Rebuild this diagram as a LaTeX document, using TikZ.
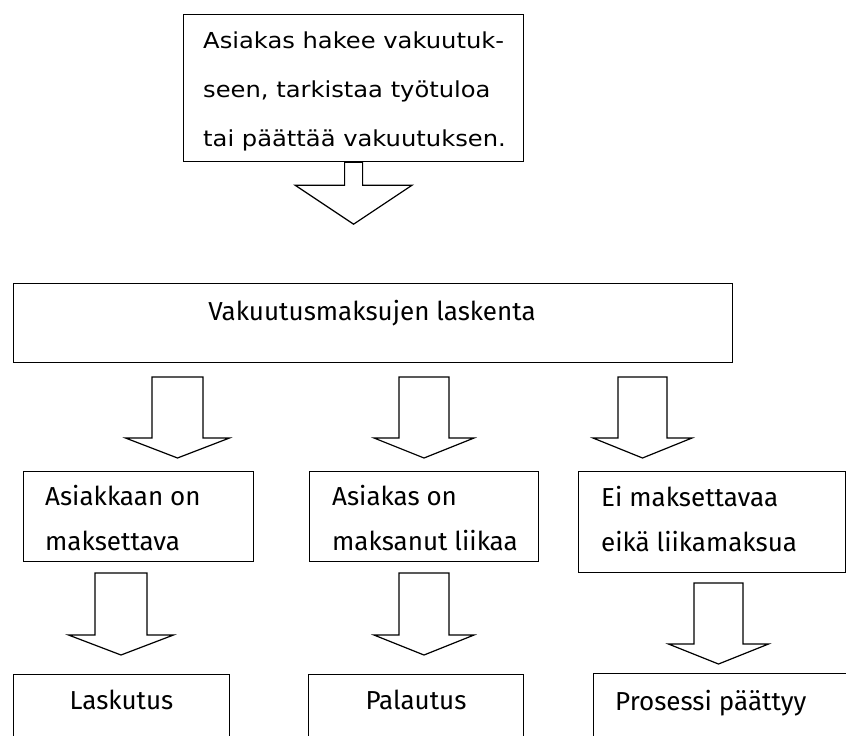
\documentclass[tikz,border=0pt]{standalone}
\usepackage{fontspec}
\setmainfont{Fira Sans}
\newfontfamily\headfont[FakeStretch=1.1]{DejaVu Sans}

\tikzset{
  frame/.style={draw, line width=1.2pt, fill=white, inner sep=0pt, anchor=north west},
  arrowline/.style={draw, line width=1.2pt, line join=miter, fill=white},
  body/.style={font=\fontsize{26}{45}\selectfont, inner sep=0pt, align=left},
  headtext/.style={font=\headfont\fontsize{22}{49}\selectfont, inner sep=0pt, align=left},
  % block arrow: #1 half stem width, #2 stem length, #3 half head width, #4 head length
  pics/blockarrow/.style n args={4}{code={
    \draw[arrowline] (-#1,0) -- (-#1,#2) -- (-#3,#2) -- (0,{#2+#4})
      -- (#3,#2) -- (#1,#2) -- (#1,0) -- cycle;
  }}
}

\begin{document}
\begin{tikzpicture}[x=1pt, y=-1pt]
  \useasboundingbox (0,0) rectangle (846,736);
  \clip (0,0) rectangle (846,736);

  % boxes
  \node[frame, minimum width=340pt, minimum height=147pt] (start) at (183,14) {};
  \node[frame, minimum width=719.3pt, minimum height=79pt] (calc) at (12.7,283) {};
  \node[frame, minimum width=230pt, minimum height=90pt] (pay) at (23,471) {};
  \node[frame, minimum width=229pt, minimum height=90pt] (over) at (309,471) {};
  \node[frame, minimum width=267pt, minimum height=101pt] (none) at (578,471) {};
  \node[frame, minimum width=216pt, minimum height=80pt] (bill) at (13,674) {};
  \node[frame, minimum width=215pt, minimum height=80pt] (refund) at (308,674) {};
  \node[frame, minimum width=270pt, minimum height=80pt] (endp) at (593,673) {};

  % block arrows
  \pic at (start.south) {blockarrow={9}{23}{58.5}{39}};
  \coordinate (c1) at (177.5,377);
  \coordinate (c2) at (424,377);
  \coordinate (c3) at (642.5,377);
  \pic at (c1) {blockarrow={25.5}{61}{52}{20}};
  \pic at (c2) {blockarrow={25}{61}{50}{20}};
  \pic at (c3) {blockarrow={24.5}{61}{49.5}{20}};
  \coordinate (d1) at (121,573);
  \coordinate (d2) at (424,573);
  \coordinate (d3) at (718.5,583);
  \pic at (d1) {blockarrow={26}{62}{52.5}{20}};
  \pic at (d2) {blockarrow={25}{62}{50}{20}};
  \pic at (d3) {blockarrow={24.5}{61}{50}{20}};

  % texts (multi-line nodes sit on the baseline of their last line)
  \node[headtext, anchor=base west] (tstart) at (203,146)
    {Asiakas hakee vakuutuk-\\seen, tarkistaa työtuloa\\tai päättää vakuutuksen.};
  \node[body, anchor=base] (tcalc) at (372,320) {Vakuutusmaksujen laskenta};
  \node[body, anchor=base west] (tpay) at (45,550) {Asiakkaan on\\maksettava};
  \node[body, anchor=base west] (tover) at (332,550) {Asiakas on\\maksanut liikaa};
  \node[body, anchor=base west] (tnone) at (601,551) {Ei maksettavaa\\eikä liikamaksua};
  \node[body, anchor=base] (tbill) at (121.5,709) {Laskutus};
  \node[body, anchor=base] (trefund) at (416,709) {Palautus};
  \node[body, anchor=base west] (tendp) at (615,710) {Prosessi päättyy};
\end{tikzpicture}
\end{document}
